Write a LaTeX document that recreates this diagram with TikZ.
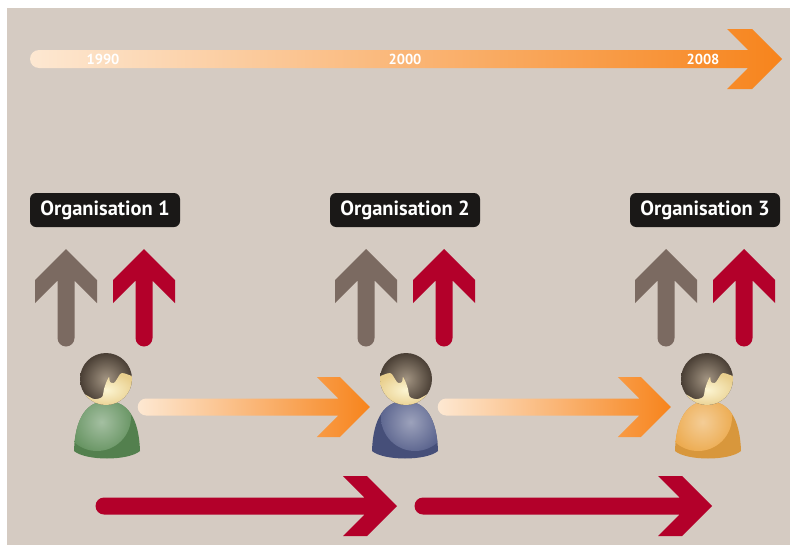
\documentclass[tikz,border=0pt]{standalone}
\usepackage{fontspec}
\setmainfont{PT Sans}
\usepackage{tikz}
\usetikzlibrary{positioning}
\usetikzlibrary{calc}
\pgfdeclarelayer{background}
\pgfdeclarelayer{foreground}
\pgfsetlayers{background,main,foreground}
\definecolor{bgbeige}{HTML}{D5CBC2}
\definecolor{orgblack}{HTML}{1A1817}
\definecolor{arrowgray}{HTML}{7B6A61}
\definecolor{arrowred}{HTML}{B3002A}
\definecolor{orangelight}{HTML}{FDE8D2}
\definecolor{orangedark}{HTML}{F7841C}
\definecolor{hairlight}{HTML}{A29482}
\definecolor{hairdark}{HTML}{4A3F35}
\definecolor{skinlight}{HTML}{FCF5D2}
\definecolor{skindark}{HTML}{E9CF8E}
\definecolor{bodygreen}{HTML}{5A8B55}
\definecolor{bodyblue}{HTML}{4C5684}
\definecolor{bodyorange}{HTML}{EBA441}
\tikzset{
	rchev/.style n args={3}{to path={let \p1=(\tikztostart), \p2=(\tikztotarget) in
		(\x2,\y2) -- ++(-#2,#2) -- ++(-#3,0) -- ({\x2-#3-#1},{\y2+#1}) -- (\x1,{\y2+#1})
		arc[start angle=90, end angle=270, radius=#1] -- ({\x2-#3-#1},{\y2-#1})
		-- ({\x2-#3-#2},{\y2-#2}) -- ({\x2-#2},{\y2-#2}) -- cycle}},
	uchev/.style n args={3}{to path={let \p1=(\tikztostart), \p2=(\tikztotarget) in
		(\x2,\y2) -- ++(-#2,-#2) -- ++(0,-#3) -- ({\x2-#1},{\y2-#3-#1}) -- ({\x2-#1},\y1)
		arc[start angle=180, end angle=360, radius=#1] -- ({\x2+#1},{\y2-#3-#1})
		-- ({\x2+#2},{\y2-#3-#2}) -- ({\x2+#2},{\y2-#2}) -- cycle}},
	person/.pic={
		\fill[#1!92!black, path picture={\shade[inner color=#1!55!white, outer color=#1] (-9,10) circle[radius=34];}]
			(-32,44) .. controls (-31,12) and (-20,-6) .. (1,-6)
			.. controls (22,-6) and (33,12) .. (34,44) .. controls (22,54) and (-20,54) .. (-32,44) -- cycle;
		\shade[inner color=hairlight, outer color=hairdark] (0,-28) circle[radius=26];
		\begin{scope}
			\clip (0,-28) circle[radius=26];
			\shade[inner color=skinlight, outer color=skindark] plot[smooth] coordinates {(28,-30) (16,-34) (11,-28) (8,-24) (4,-25) (3,-30) (0,-24) (-2,-18) (-4,-10) (-12,-8) (-22,-13) (-30,-14)}
				-- (-30,0) -- (30,0) -- cycle;
		\end{scope}
	}
}
\begin{document}
\begin{tikzpicture}[x=1pt,y=-1pt,
						orgbox/.style={fill=orgblack, text=white, rounded corners=6pt, minimum width=150pt, minimum height=34pt, inner sep=0pt, font=\bfseries\fontsize{20.5}{22}\selectfont},
						yearlabel/.style={text=white, inner sep=0pt, font=\bfseries\fontsize{14.5}{15}\selectfont},
						personnode/.style={inner sep=0pt, minimum width=68pt, minimum height=100pt},
						]
						\useasboundingbox (0,0) rectangle (790,546);
						\begin{pgfonlayer}{background}
						\fill[bgbeige] (7,8) rectangle (790,545);
						\end{pgfonlayer}
						
						%Nodes
						\node[orgbox]      (o1)	at	(105,210)	{Organisation 1};
						\node[orgbox]      (o2)	at	(405,210)	{Organisation 2};
						\node[orgbox]      (o3)	at	(705,210)	{Organisation 3};
						\node[personnode]  (p1)	at	(106,407)	{};
						\node[personnode]  (p2)	at	(406,407)	{};
						\node[personnode]  (p3)	at	(707,407)	{};
						\pic at (p1) {person=bodygreen};
						\pic[xscale=-1] at (p2) {person=bodyblue};
						\pic at (p3) {person=bodyorange};
						
						%Coordinates
						\coordinate (t0) at (39,59);
						\coordinate (t1) at (782,59);
						\coordinate (g1s) at (66,338);
						\coordinate (g1e) at (66,249);
						\coordinate (r1s) at (144,338);
						\coordinate (r1e) at (144,249);
						\coordinate (g2s) at (366,338);
						\coordinate (g2e) at (366,249);
						\coordinate (r2s) at (444,338);
						\coordinate (r2e) at (444,249);
						\coordinate (g3s) at (666,338);
						\coordinate (g3e) at (666,249);
						\coordinate (r3s) at (744,338);
						\coordinate (r3e) at (744,249);
						\coordinate (b1s) at (104,506);
						\coordinate (b1e) at (397,506);
						\coordinate (b2s) at (423,506);
						\coordinate (b2e) at (712,506);
						
						\begin{pgfonlayer}{background}
						%Lines
						\shade[left color=orangelight, right color=orangedark, rchev={9pt}{30pt}{25pt}] (t0) to (t1);
						\fill[arrowgray, uchev={8.5pt}{31pt}{23pt}] (g1s) to (g1e);
						\fill[arrowred, uchev={8.5pt}{31pt}{23pt}] (r1s) to (r1e);
						\fill[arrowgray, uchev={8.5pt}{31pt}{23pt}] (g2s) to (g2e);
						\fill[arrowred, uchev={8.5pt}{31pt}{23pt}] (r2s) to (r2e);
						\fill[arrowgray, uchev={8.5pt}{31pt}{23pt}] (g3s) to (g3e);
						\fill[arrowred, uchev={8.5pt}{31pt}{23pt}] (r3s) to (r3e);
						\shade[left color=orangelight, right color=orangedark, rchev={8.5pt}{30pt}{23pt}] ([xshift=6pt]p1.east) to ([xshift=-2pt]p2.west);
						\shade[left color=orangelight, right color=orangedark, rchev={8.5pt}{30pt}{23pt}] ([xshift=6pt]p2.east) to ([xshift=-2pt]p3.west);
						\fill[arrowred, rchev={8.5pt}{30pt}{24pt}] (b1s) to (b1e);
						\fill[arrowred, rchev={8.5pt}{30pt}{24pt}] (b2s) to (b2e);
						\end{pgfonlayer}
						
						\node[yearlabel]   (y1990)	at	(103,59)	{1990};
						\node[yearlabel]   (y2000)	at	(405,59)	{2000};
						\node[yearlabel]   (y2008)	at	(703,59)	{2008};
					\end{tikzpicture}
\end{document}
